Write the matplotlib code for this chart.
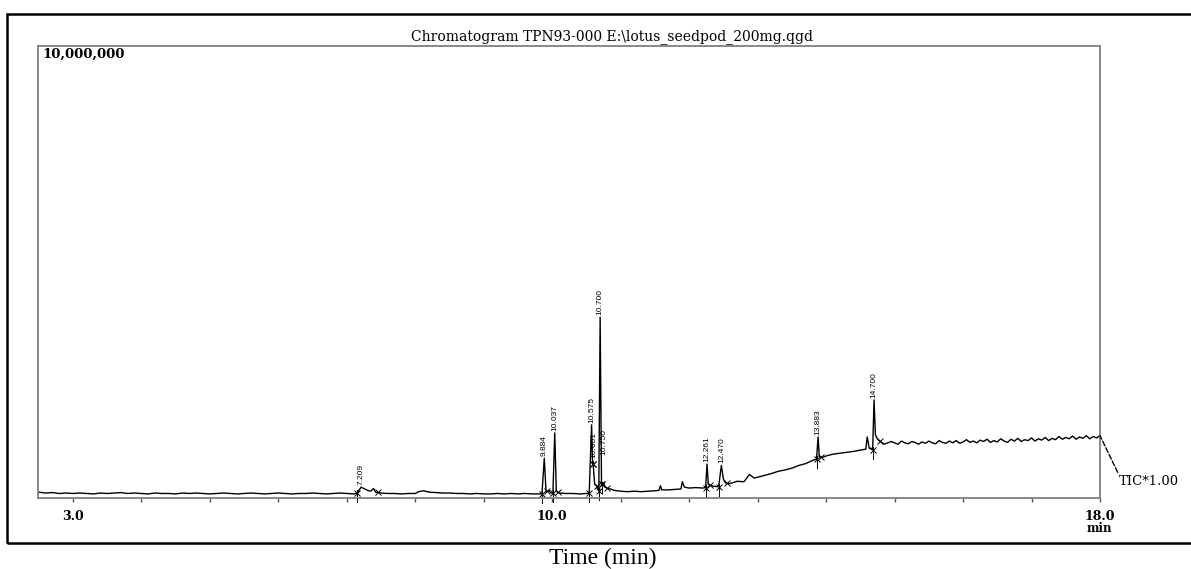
import matplotlib
matplotlib.use("Agg")
import matplotlib.pyplot as plt
from matplotlib.patches import Rectangle
import numpy as np

# TIC trace (time in min, intensity in millions of counts)
trace_time = [
    2.5, 2.6, 2.7, 2.8, 2.9, 3.0, 3.1, 3.2, 3.3, 3.4, 3.5, 3.6, 3.7, 3.8, 3.9,
    4.0, 4.1, 4.2, 4.3, 4.4, 4.5, 4.6, 4.7, 4.8, 4.9, 5.0, 5.1, 5.2, 5.3, 5.4,
    5.5, 5.6, 5.7, 5.8, 5.9, 6.0, 6.1, 6.2, 6.3, 6.4, 6.5, 6.6, 6.7, 6.8, 6.9,
    7.0, 7.1, 7.15, 7.209, 7.25, 7.3, 7.35, 7.39, 7.42, 7.5, 7.6, 7.7, 7.8, 7.9,
    8.0, 8.05, 8.12, 8.2, 8.3, 8.4, 8.5, 8.6, 8.7, 8.8, 8.9, 9.0, 9.1, 9.2,
    9.3, 9.4, 9.5, 9.6, 9.7, 9.8, 9.85, 9.884, 9.91, 9.95, 9.98, 10.01,
    10.037, 10.06, 10.1, 10.2, 10.3, 10.4, 10.5, 10.54, 10.575, 10.59, 10.601,
    10.62, 10.65, 10.68, 10.700, 10.72, 10.75, 10.77, 10.8, 10.85, 10.9, 11.0,
    11.1, 11.2, 11.3, 11.4, 11.5, 11.56, 11.58, 11.6, 11.7, 11.8, 11.88, 11.9,
    11.93, 12.0, 12.1, 12.2, 12.24, 12.261, 12.28, 12.35, 12.43, 12.470, 12.5,
    12.53, 12.6, 12.7, 12.8, 12.88, 12.95, 13.0, 13.1, 13.2, 13.3, 13.4, 13.5,
    13.6, 13.7, 13.8, 13.86, 13.883, 13.9, 13.95, 14.0, 14.1, 14.2, 14.3, 14.4,
    14.5, 14.58, 14.6, 14.63, 14.68, 14.700, 14.72, 14.75, 14.8, 14.85, 14.9, 14.95,
    15.00, 15.05, 15.10, 15.15, 15.20, 15.25, 15.30, 15.35, 15.40, 15.45,
    15.50, 15.55, 15.60, 15.65, 15.70, 15.75, 15.80, 15.85, 15.90, 15.95,
    16.00, 16.05, 16.10, 16.15, 16.20, 16.25, 16.30, 16.35, 16.40, 16.45,
    16.50, 16.55, 16.60, 16.65, 16.70, 16.75, 16.80, 16.85, 16.90, 16.95,
    17.00, 17.05, 17.10, 17.15, 17.20, 17.25, 17.30, 17.35, 17.40, 17.45,
    17.50, 17.55, 17.60, 17.65, 17.70, 17.75, 17.80, 17.85, 17.90, 17.95, 18.00,
]
trace_signal = [
    0.13, 0.11, 0.12, 0.10, 0.11, 0.10, 0.11, 0.10, 0.09, 0.11, 0.10, 0.11, 0.12, 0.10, 0.11,
    0.10, 0.09, 0.11, 0.10, 0.10, 0.09, 0.11, 0.10, 0.11, 0.10, 0.09, 0.10, 0.11, 0.10, 0.09,
    0.10, 0.11, 0.10, 0.09, 0.10, 0.11, 0.10, 0.09, 0.10, 0.10, 0.11, 0.10, 0.09, 0.10, 0.11,
    0.10, 0.09, 0.11, 0.24, 0.21, 0.17, 0.15, 0.21, 0.13, 0.11, 0.10, 0.10, 0.09, 0.10,
    0.10, 0.14, 0.16, 0.13, 0.12, 0.11, 0.11, 0.10, 0.10, 0.09, 0.10, 0.09, 0.09, 0.10,
    0.09, 0.10, 0.09, 0.10, 0.09, 0.09, 0.09, 0.88, 0.13, 0.17, 0.11, 0.11,
    1.44, 0.15, 0.11, 0.10, 0.10, 0.09, 0.10, 0.11, 1.62, 0.75, 0.69,
    0.30, 0.27, 0.16, 4.00, 0.28, 0.34, 0.24, 0.22, 0.20, 0.17, 0.15,
    0.14, 0.15, 0.14, 0.15, 0.16, 0.17, 0.27, 0.18, 0.18, 0.19, 0.20, 0.36,
    0.24, 0.22, 0.23, 0.22, 0.23, 0.75, 0.30, 0.26, 0.25, 0.72, 0.42,
    0.33, 0.32, 0.37, 0.36, 0.52, 0.44, 0.46, 0.50, 0.54, 0.59, 0.62, 0.66,
    0.72, 0.76, 0.83, 0.86, 1.35, 0.92, 0.90, 0.93, 0.97, 0.99, 1.01, 1.03,
    1.06, 1.08, 1.35, 1.10, 1.07, 2.17, 1.40, 1.30, 1.24, 1.19, 1.22, 1.25,
    1.22, 1.19, 1.26, 1.22, 1.20, 1.25, 1.23, 1.19, 1.24, 1.21,
    1.26, 1.22, 1.20, 1.27, 1.23, 1.21, 1.26, 1.22, 1.27, 1.21,
    1.24, 1.29, 1.23, 1.26, 1.22, 1.28, 1.25, 1.30, 1.23, 1.27,
    1.24, 1.31, 1.26, 1.23, 1.30, 1.26, 1.32, 1.25, 1.29, 1.27,
    1.33, 1.26, 1.31, 1.28, 1.34, 1.27, 1.32, 1.29, 1.36, 1.30,
    1.34, 1.31, 1.37, 1.30, 1.35, 1.32, 1.38, 1.31, 1.36, 1.33, 1.38,
]

# labelled peaks
peak_rt = [7.209, 9.884, 10.037, 10.575, 10.601, 10.700, 10.750, 12.261, 12.470, 13.883, 14.700]
peak_label = ["7.209", "9.884", "10.037", "10.575", "10.601", "10.700", "10.750",
              "12.261", "12.470", "13.883", "14.700"]
peak_start = [7.15, 9.85, 10.01, 10.54, 10.59, 10.68, 10.73, 12.24, 12.43, 13.86, 14.68]
peak_end = [7.45, 9.93, 10.08, 10.59, 10.65, 10.73, 10.80, 12.30, 12.55, 13.92, 14.78]

tick_pos = list(range(3, 19))
tick_text = ["3.0"] + [""] * 6 + ["10.0"] + [""] * 7 + ["18.0"]

# extra label lift (pixels) where the labels sit higher than the apex
label_lift = {"10.601": 7, "10.750": 26}

W, H = 1191, 569
fig = plt.figure(figsize=(W / 100, H / 100), dpi=100)
ax = fig.add_axes([38 / W, 1 - 498 / H, (1100 - 38) / W, (498 - 46) / H])

t = np.array(trace_time)
s = np.array(trace_signal)
ax.plot(t, s, color="black", lw=1.0)

# integration marks
for a, b in zip(peak_start, peak_end):
    va = np.interp(a, t, s)
    vb = np.interp(b, t, s)
    ax.plot([a, b], [va, vb], ls="none", marker="x", ms=4, mew=0.7, color="black")
    ax.plot([a, a], [va + 0.06, va - 0.2], color="black", lw=0.7, clip_on=False)

# peak labels
for rt, lab in zip(peak_rt, peak_label):
    v = np.interp(rt, t, s)
    ax.annotate(lab, xy=(rt, v), xytext=(0, 2 + label_lift.get(lab, 0)),
                textcoords="offset pixels", rotation=90, ha="center", va="bottom",
                fontsize=6, family=["Liberation Sans Narrow", "Liberation Sans"])

ax.set_xlim(2.49, 18.0)
ax.set_ylim(0, 10)
ax.set_yticks([])
ax.set_xticks(tick_pos)
ax.set_xticklabels(tick_text, family="DejaVu Serif", fontweight="bold", fontsize=9)
ax.tick_params(axis="x", direction="out", length=3, width=1, color="#555555", pad=6)
for sp in ax.spines.values():
    sp.set_color("#7f7f7f")
    sp.set_linewidth(1.3)

# TIC tag with dashed leader
ax.annotate("TIC*1.00", xy=(18.0, s[-1]), xytext=(19, -46), textcoords="offset pixels",
            ha="left", va="center", fontsize=9.5, family="DejaVu Serif",
            annotation_clip=False,
            arrowprops=dict(arrowstyle="-", linestyle="--", lw=1.0, color="black",
                            relpos=(0, 1), shrinkA=0, shrinkB=0))

fig.text(1099 / W, 1 - 528 / H, "min", ha="center", va="center",
         family="DejaVu Serif", fontweight="bold", fontsize=8.5)
fig.text(42 / W, 1 - 48 / H, "10,000,000", ha="left", va="top",
         family="DejaVu Serif", fontweight="bold", fontsize=9.5)
fig.text(612 / W, 1 - 44 / H, "Chromatogram TPN93-000 E:\\lotus_seedpod_200mg.qgd",
         ha="center", va="bottom", family="DejaVu Serif", fontsize=10)
fig.text(603 / W, 1 - 548 / H, "Time (min)", ha="center", va="top",
         family="Liberation Serif", fontsize=17)

# outer frame (runs off the right edge)
fig.patches.append(Rectangle((7 / W, 1 - 543 / H), 1.0, (543 - 14) / H,
                             transform=fig.transFigure, fill=False, lw=1.8,
                             edgecolor="black"))

fig.savefig("out.png", dpi=100)
plt.close(fig)
